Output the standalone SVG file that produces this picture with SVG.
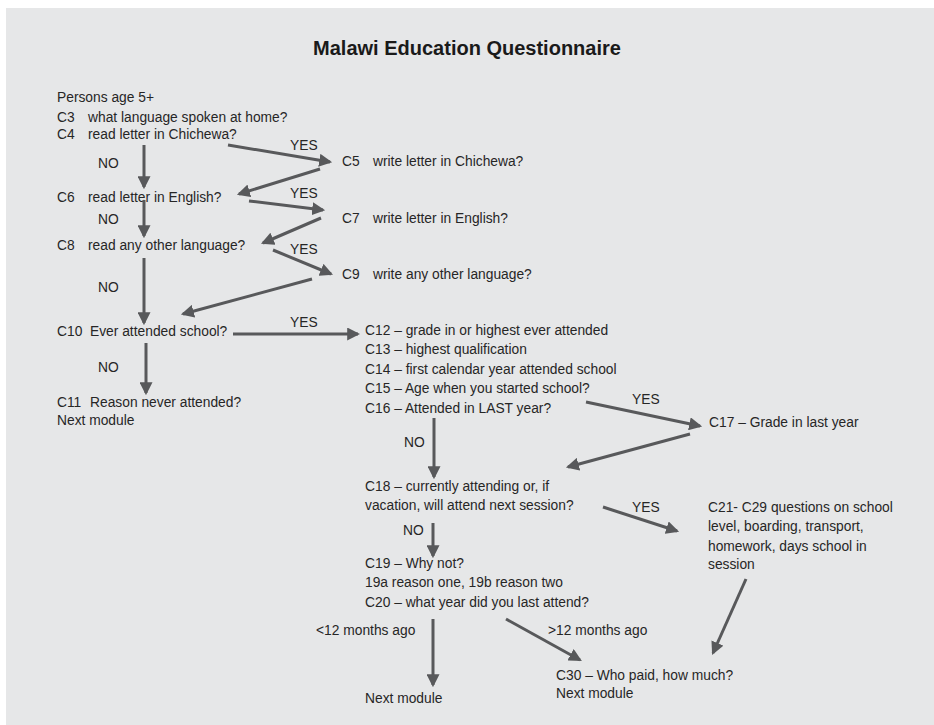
<svg xmlns="http://www.w3.org/2000/svg" width="934" height="725" viewBox="0 0 934 725">
<style>
text{font-family:"Liberation Sans",Arial,sans-serif;font-size:13.8px;fill:#262626}
.t{font-size:20px;font-weight:bold;fill:#1a1a1a}
.c path{stroke:#58595b;stroke-width:3;fill:none;marker-end:url(#ah)}
</style>
<defs>
<marker id="ah" viewBox="0 0 12 12" refX="10" refY="6" markerWidth="13" markerHeight="13" markerUnits="userSpaceOnUse" orient="auto">
<path d="M0,0 L12,6 L0,12 z" fill="#58595b"/>
</marker>
</defs>
<rect x="6" y="8" width="928" height="717" fill="#e6e7e8"/>
<text class="t" x="467" y="55" text-anchor="middle">Malawi Education Questionnaire</text>

<g id="start"><text x="57" y="102">Persons age 5+</text>
<text y="122"><tspan x="57">C3</tspan><tspan x="88">what language spoken at home?</tspan></text></g>
<g id="c4"><text y="139"><tspan x="57">C4</tspan><tspan x="88">read letter in Chichewa?</tspan></text></g>
<g id="c5"><text y="166"><tspan x="342">C5</tspan><tspan x="373">write letter in Chichewa?</tspan></text></g>
<g id="c6"><text y="202"><tspan x="57">C6</tspan><tspan x="88">read letter in English?</tspan></text></g>
<g id="c7"><text y="223"><tspan x="342">C7</tspan><tspan x="373">write letter in English?</tspan></text></g>
<g id="c8"><text y="250"><tspan x="57">C8</tspan><tspan x="88">read any other language?</tspan></text></g>
<g id="c9"><text y="279"><tspan x="342">C9</tspan><tspan x="373">write any other language?</tspan></text></g>
<g id="c10"><text y="336"><tspan x="57">C10</tspan><tspan x="90">Ever attended school?</tspan></text></g>
<g id="c11"><text y="407"><tspan x="57">C11</tspan><tspan x="90">Reason never attended?</tspan></text>
<text x="57" y="425">Next module</text></g>
<g id="c12"><text x="365" y="335">C12 – grade in or highest ever attended</text>
<text x="365" y="354">C13 – highest qualification</text>
<text x="365" y="374">C14 – first calendar year attended school</text>
<text x="365" y="393">C15 – Age when you started school?</text>
<text x="365" y="413">C16 – Attended in LAST year?</text></g>
<g id="c17"><text x="709" y="427">C17 – Grade in last year</text></g>
<g id="c18"><text x="365" y="491">C18 – currently attending or, if</text>
<text x="365" y="510">vacation, will attend next session?</text></g>
<g id="c21"><text x="708" y="512">C21- C29 questions on school</text>
<text x="708" y="531">level, boarding, transport,</text>
<text x="708" y="551">homework, days school in</text>
<text x="708" y="569">session</text></g>
<g id="c19"><text x="365" y="568">C19 – Why not?</text>
<text x="365" y="587">19a reason one, 19b reason two</text>
<text x="365" y="607">C20 – what year did you last attend?</text></g>
<g id="next"><text x="365" y="703">Next module</text></g>
<g id="c30"><text x="556" y="680">C30 – Who paid, how much?</text>
<text x="556" y="698">Next module</text></g>

<g id="labels">
<text x="290" y="150">YES</text>
<text x="98" y="168">NO</text>
<text x="290" y="198">YES</text>
<text x="98" y="224">NO</text>
<text x="290" y="254">YES</text>
<text x="98" y="292">NO</text>
<text x="290" y="327">YES</text>
<text x="98" y="372">NO</text>
<text x="632" y="404">YES</text>
<text x="404" y="447">NO</text>
<text x="632" y="512">YES</text>
<text x="403" y="535">NO</text>
<text x="316" y="635">&lt;12 months ago</text>
<text x="548" y="635">&gt;12 months ago</text>
</g>

<g id="connectors" class="c">
<path d="M228,145 L330,162"/>
<path d="M144,145 L144,187"/>
<path d="M320,169 L239,194"/>
<path d="M249,201 L323,210"/>
<path d="M144,200 L144,236"/>
<path d="M321,218 L263,243"/>
<path d="M273,250 L331,274"/>
<path d="M144,258 L144,323"/>
<path d="M312,279 L183,314"/>
<path d="M233,334 L358,334"/>
<path d="M146,343 L146,393"/>
<path d="M586,402 L700,426"/>
<path d="M434,418 L434,477"/>
<path d="M690,434 L568,467"/>
<path d="M603,507 L677,531"/>
<path d="M433,523 L433,556"/>
<path d="M433,619 L433,685"/>
<path d="M506,619 L580,660"/>
<path d="M746,579 L713,653"/>
</g>
</svg>
